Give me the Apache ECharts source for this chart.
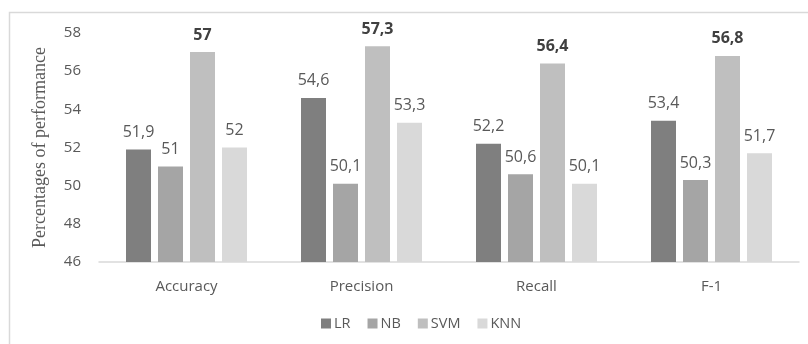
<!DOCTYPE html>
<html><head><meta charset="utf-8">
<script src="https://cdn.jsdelivr.net/npm/echarts@6/dist/echarts.min.js"></script>
<style>html,body{margin:0;padding:0;background:#fff}#c{width:808px;height:344px}</style>
</head><body><div id="c"></div>
<script>
const categories = ['Accuracy', 'Precision', 'Recall', 'F-1'];
const seriesNames = ['LR', 'NB', 'SVM', 'KNN'];
const lrValues = [51.9, 54.6, 52.2, 53.4];
const nbValues = [51, 50.1, 50.6, 50.3];
const svmValues = [57, 57.3, 56.4, 56.8];
const knnValues = [52, 53.3, 50.1, 51.7];
const yTicks = [46, 48, 50, 52, 54, 56, 58];

const colors = ['#7f7f7f', '#a5a5a5', '#bfbfbf', '#d9d9d9'];
const allValues = [lrValues, nbValues, svmValues, knnValues];
const font = '"Open Sans", "Liberation Sans", sans-serif';

const chart = echarts.init(document.getElementById('c'), null, {renderer: 'canvas'});
chart.setOption({
  animation: false,
  graphic: [{
    type: 'rect', silent: true, z: -10,
    shape: {x: 9.5, y: 12.5, width: 820, height: 360},
    style: {fill: 'none', stroke: '#d9d9d9', lineWidth: 1.5}
  }],
  grid: {left: 99, right: 9, top: 33, bottom: 82, containLabel: false},
  legend: {
    data: seriesNames, bottom: 8, left: 316,
    itemWidth: 10, itemHeight: 10, itemGap: 17, icon: 'rect',
    textStyle: {color: '#595959', fontSize: 14.5, fontFamily: font, padding: [0, 0, 0, -2]}
  },
  xAxis: {
    type: 'category', data: categories,
    axisLine: {lineStyle: {color: '#d9d9d9', width: 1.5}},
    axisTick: {show: false},
    axisLabel: {color: '#595959', fontSize: 15, fontFamily: font, margin: 17}
  },
  yAxis: {
    type: 'value', min: yTicks[0], max: yTicks[yTicks.length - 1], interval: 2,
    name: 'Percentages of performance', nameLocation: 'middle', nameGap: 50,
    nameTextStyle: {fontFamily: '"Liberation Serif", serif', fontSize: 18, color: '#595959'},
    splitLine: {show: false},
    axisLine: {show: false}, axisTick: {show: false},
    axisLabel: {color: '#595959', fontSize: 15, fontFamily: font, margin: 18}
  },
  series: seriesNames.map((name, i) => ({
    name, type: 'bar', data: allValues[i],
    barWidth: 25, barGap: '28%',
    itemStyle: {color: colors[i]},
    label: {
      show: true, position: 'top', distance: 9,
      fontFamily: font, fontSize: 16,
      color: name === 'SVM' ? '#404040' : '#595959',
      fontWeight: name === 'SVM' ? 'bold' : 'normal',
      formatter: p => String(p.value).replace('.', ',')
    }
  }))
});
</script></body></html>
